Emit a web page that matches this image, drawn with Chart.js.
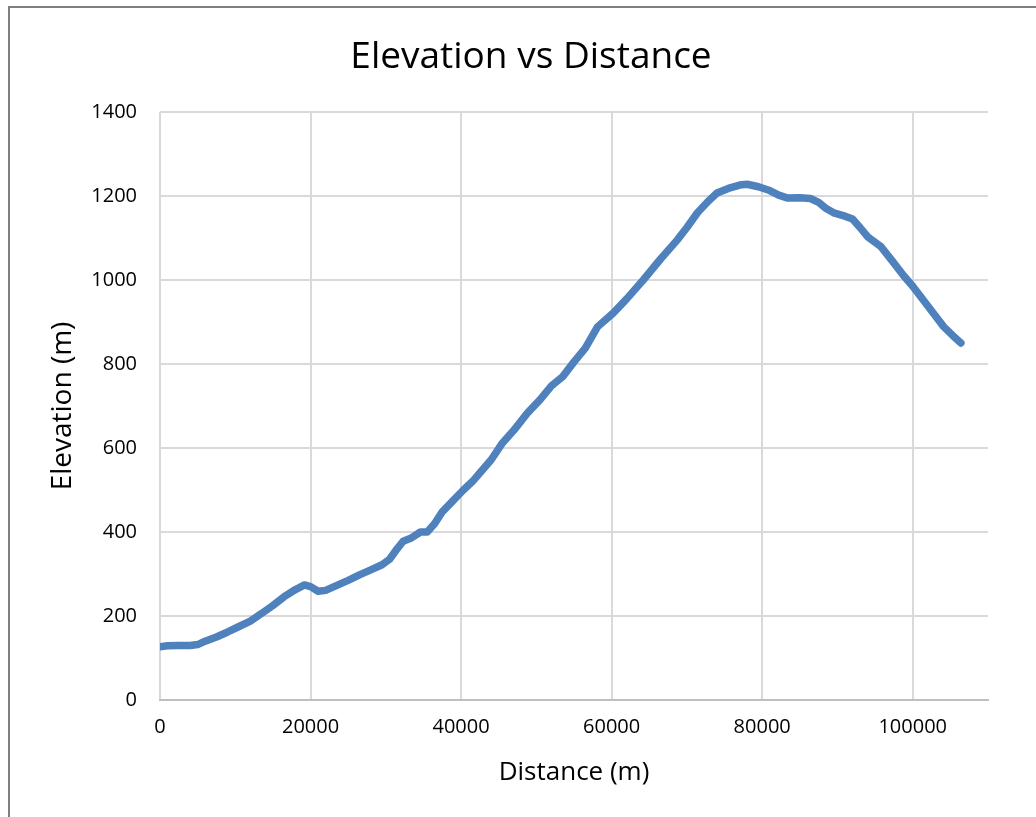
<!DOCTYPE html>
<html>
<head>
<meta charset="utf-8">
<title>Elevation vs Distance</title>
<script src="https://cdn.jsdelivr.net/npm/chart.js@4/dist/chart.umd.min.js"></script>
<style>
    html, body { margin: 0; padding: 0; background: #ffffff; }
    #wrap { width: 1036px; height: 817px; position: relative; }
</style>
</head>
<body>
<div id="wrap"><canvas id="elevationChart"></canvas></div>
<script>
// Route profile - elevation along the track

// Distance from start (m)
const distances = [
    0, 1000, 2500, 4000, 5000, 6000, 7500, 9000, 10500, 12000,
    13500, 15000, 16500, 18000, 19200, 20000, 21000, 22000, 23500, 25000,
    26500, 28000, 29500, 30500, 31500, 32300, 33300, 34600, 35500, 36500,
    37500, 39000, 40300, 41500, 42600, 44000, 45500, 47000, 48800, 50500,
    52000, 53500, 55000, 56500, 58100, 60200, 62000, 64200, 66500, 68700,
    70000, 71400, 72800, 74000, 75500, 77000, 78000, 79500, 81000, 82200,
    83400, 85000, 86400, 87500, 88500, 89500, 91000, 92000, 93000, 94000,
    95800, 97300, 98800, 100000, 101500, 103000, 104100, 105300, 106400
];

// Elevation at each distance (m)
const elevations = [
    127, 129, 130, 130, 132, 140, 150, 162, 175, 188,
    206, 225, 246, 263, 274, 270, 259, 261, 273, 285,
    298, 310, 322, 335, 360, 378, 385, 400, 400, 420,
    448, 476, 500, 520, 543, 572, 612, 642, 683, 715,
    748, 770, 805, 838, 888, 921, 955, 1000, 1050, 1095,
    1125, 1160, 1187, 1207, 1218, 1226, 1228, 1222, 1213, 1202,
    1195, 1196, 1194, 1185, 1170, 1160, 1152, 1145, 1125, 1103,
    1079, 1045, 1010, 985, 950, 915, 889, 868, 850
];

// Axis ranges and tick labels
const xRange = [0, 110000];
const xTickValues = [0, 20000, 40000, 60000, 80000, 100000];
const yRange = [0, 1400];
const yTickValues = [0, 200, 400, 600, 800, 1000, 1200, 1400];

const FONT = '"Open Sans", "Noto Sans", sans-serif';
const GRID = '#d9d9d9';

// Thin grey frame round the chart, open on the right and bottom
const framePlugin = {
    id: 'frame',
    beforeDraw(chart) {
        const ctx = chart.ctx;
        ctx.save();
        ctx.fillStyle = '#ffffff';
        ctx.fillRect(0, 0, chart.width, chart.height);
        ctx.strokeStyle = '#7f7f7f';
        ctx.lineWidth = 2;
        ctx.beginPath();
        ctx.moveTo(9, chart.height);
        ctx.lineTo(9, 7);
        ctx.lineTo(chart.width, 7);
        ctx.stroke();
        ctx.restore();
    }
};

document.addEventListener('DOMContentLoaded', function() {
    renderElevationChart();
});

function renderElevationChart() {
    const ctx = document.getElementById('elevationChart').getContext('2d');

    const points = distances.map((d, i) => ({ x: d, y: elevations[i] }));

    new Chart(ctx, {
        type: 'scatter',
        data: {
            datasets: [{
                label: 'Elevation',
                data: points,
                showLine: true,
                borderColor: '#4f81bd',
                backgroundColor: '#4f81bd',
                borderWidth: 7.5,
                borderCapStyle: 'round',
                borderJoinStyle: 'round',
                pointRadius: 0,
                tension: 0
            }]
        },
        options: {
            responsive: true,
            maintainAspectRatio: false,
            animation: false,
            layout: {
                padding: { left: 74, right: 48, top: 0, bottom: 0 }
            },
            plugins: {
                legend: { display: false },
                tooltip: { enabled: false },
                title: {
                    display: true,
                    text: 'Elevation vs Distance',
                    color: '#000000',
                    font: { family: FONT, size: 37, weight: 'normal', lineHeight: 1.2 },
                    padding: { top: 35, bottom: 32.6 }
                }
            },
            scales: {
                x: {
                    type: 'linear',
                    min: xRange[0],
                    max: xRange[1],
                    afterBuildTicks: (scale) => {
                        scale.ticks = xTickValues.map(v => ({ value: v }));
                    },
                    afterFit: (scale) => { scale.height = 117; },
                    ticks: {
                        color: '#000000',
                        padding: 15,
                        maxRotation: 0,
                        autoSkip: false,
                        font: { family: FONT, size: 20 },
                        callback: (v) => String(v)
                    },
                    grid: { color: GRID, lineWidth: 2, drawTicks: false },
                    border: { display: true, color: '#bfbfbf', width: 2 },
                    title: {
                        display: true,
                        text: 'Distance (m)',
                        color: '#000000',
                        font: { family: FONT, size: 26, lineHeight: 1 },
                        padding: { top: 0, bottom: 31 }
                    }
                },
                y: {
                    type: 'linear',
                    min: yRange[0],
                    max: yRange[1],
                    afterBuildTicks: (scale) => {
                        scale.ticks = yTickValues.map(v => ({ value: v }));
                    },
                    afterFit: (scale) => { scale.width = 86; },
                    ticks: {
                        color: '#000000',
                        padding: 23,
                        autoSkip: false,
                        font: { family: FONT, size: 20 },
                        callback: (v) => String(v)
                    },
                    grid: { color: GRID, lineWidth: 2, drawTicks: false },
                    border: { display: false },
                    title: {
                        display: true,
                        text: 'Elevation (m)',
                        color: '#000000',
                        font: { family: FONT, size: 28, lineHeight: 1 },
                        padding: { top: -25, bottom: 0 }
                    }
                }
            }
        },
        plugins: [framePlugin]
    });
}
</script>
</body>
</html>
